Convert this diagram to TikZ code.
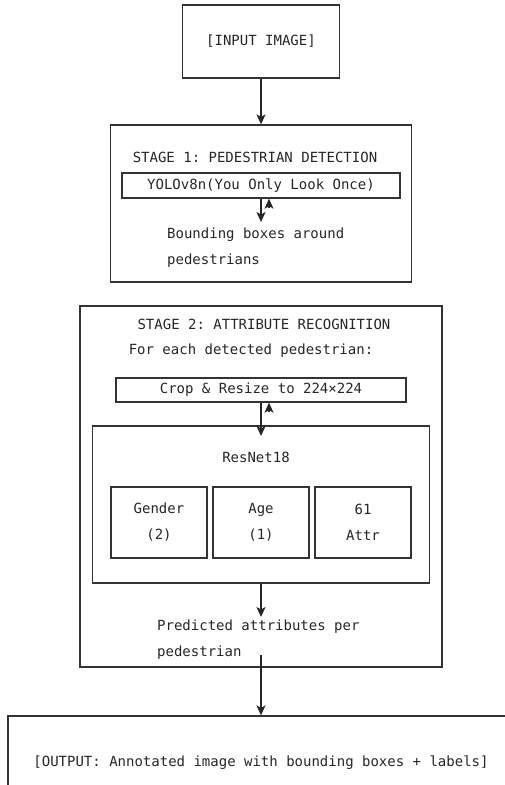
\documentclass[tikz,border=0pt]{standalone}
\usepackage{fontspec}
\setmonofont{DejaVu Sans Mono}
\usetikzlibrary{arrows.meta, calc}

\tikzset{
    box/.style={draw=black!80, line width=1.3pt, rectangle, inner sep=0pt},
    txt/.style={inner sep=0pt, text=black!85},
    arr/.style={draw=black!85, line width=1.3pt, -{Stealth[length=10pt, width=9pt, inset=2.5pt]}},
}

\begin{document}
\begin{tikzpicture}[x=1pt, y=-1pt, font=\ttfamily\fontsize{14}{26}\selectfont]
        \useasboundingbox (0,0) rectangle (505,785);
        \clip (0,0) rectangle (505,785);

        \node[box, minimum width=157pt, minimum height=73pt, text=black!85] (input) at (261,41.5) {[INPUT IMAGE]};

        \node[box, minimum width=301pt, minimum height=157pt] (stage1) at (261,203.5) {};
        \node[txt] (title1) at (255,157) {STAGE 1: PEDESTRIAN DETECTION};
        \node[box, minimum width=278pt, minimum height=25pt, text=black!85] (yolo) at (261,185.5) {YOLOv8n(You Only Look Once)};
        \node[txt, anchor=west, align=left] (boxes) at (167,248) {Bounding boxes around\\pedestrians};

        \node[box, minimum width=362pt, minimum height=361pt] (stage2) at (261,486.5) {};
        \node[txt] (title2) at (264,324) {STAGE 2: ATTRIBUTE RECOGNITION};
        \node[txt] (each) at (251,351) {For each detected pedestrian:};
        \node[box, minimum width=290pt, minimum height=24pt, text=black!85] (crop) at (261,390) {Crop \& Resize to 224×224};

        \node[box, minimum width=337pt, minimum height=157pt] (resnet) at (261,504.5) {};
        \node[txt] (rnname) at (256,457) {ResNet18};
        \node[box, minimum width=96pt, minimum height=71pt, align=center, text=black!85] (gender) at (159,522.5) {Gender\\(2)};
        \node[box, minimum width=96pt, minimum height=71pt, align=center, text=black!85] (age) at (261,522.5) {Age\\(1)};
        \node[box, minimum width=96pt, minimum height=71pt, align=center, text=black!85] (attr) at (363,522.5) {61\\Attr};
        \node[txt, anchor=west, align=left] (pred) at (157,640) {Predicted attributes per\\pedestrian};

        \node[box, minimum width=506pt, minimum height=94pt, text=black!85] (output) at (261,763) {[OUTPUT: Annotated image with bounding boxes + labels]};

        \coordinate (bbtip) at (261,222);
        \coordinate (rntip) at (261,436);
        \coordinate (predtip) at (261,617);
        \coordinate (outstart) at (261,655);
        \coordinate (yoloup) at (269,208);
        \coordinate (cropup) at (269,412);

        \draw[arr] (input.south) -- (stage1.north);
        \draw[arr] (yolo.south) -- (bbtip);
        \draw[arr] (yoloup) -- (yoloup |- yolo.south);
        \draw[arr] (crop.south) -- (rntip);
        \draw[arr] (cropup) -- (cropup |- crop.south);
        \draw[arr] (resnet.south) -- (predtip);
        \draw[arr] (outstart) -- (output.north);
\end{tikzpicture}
\end{document}
